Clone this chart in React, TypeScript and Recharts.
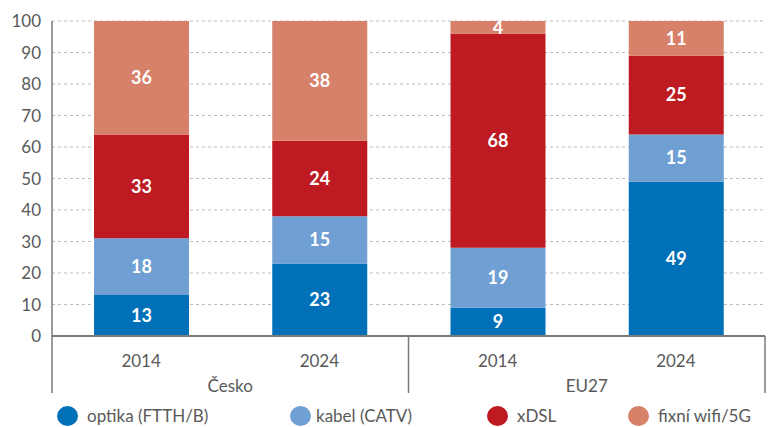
import { BarChart, Bar, XAxis, YAxis, CartesianGrid, LabelList } from "recharts"

const years = ["2014", "2024", "2014", "2024"]
const groups = ["Česko", "Česko", "EU27", "EU27"]
const optika = [13, 23, 9, 49]
const kabel = [18, 15, 19, 15]
const xdsl = [33, 24, 68, 25]
const wifi = [36, 38, 4, 11]
const yTicks = [0, 10, 20, 30, 40, 50, 60, 70, 80, 90, 100]

const SERIES = [
  { key: "optika", name: "optika (FTTH/B)", color: "#0070B9" },
  { key: "kabel", name: "kabel (CATV)", color: "#6F9FD3" },
  { key: "xdsl", name: "xDSL", color: "#BD1A21" },
  { key: "wifi", name: "fixní wifi/5G", color: "#D7806A" },
]

const data = years.map((y, i) => ({
  year: y,
  group: groups[i],
  optika: optika[i],
  kabel: kabel[i],
  xdsl: xdsl[i],
  wifi: wifi[i],
}))

const FONT = "Lato, 'Open Sans', sans-serif"
const TEXT = "#595959"
const AXIS = "#7a7a7a"
const W = 771
const H = 427
const LEFT = 52
const RIGHT = 765
const TOP = 21
const BOTTOM = 336
const XAXIS_H = 60
const BAND = (RIGHT - LEFT) / years.length
const LEGEND_X = [57, 290, 487, 628]

function YearTick(props: any) {
  const { x, payload, index } = props
  const parts: any[] = [
    <text key="y" x={x} y={367} textAnchor="middle" fontSize={17} fill={TEXT} fontFamily={FONT}>
      {payload.value}
    </text>,
  ]
  if (index % 2 === 0) {
    parts.push(
      <text key="g" x={x + BAND / 2} y={392} textAnchor="middle" fontSize={17} fill={TEXT} fontFamily={FONT}>
        {groups[index]}
      </text>,
      <line key="l" x1={x - BAND / 2} x2={x - BAND / 2} y1={BOTTOM} y2={393} stroke={AXIS} strokeWidth={1.5} />
    )
  }
  if (index === years.length - 1) {
    parts.push(<line key="r" x1={x + BAND / 2} x2={x + BAND / 2} y1={BOTTOM} y2={393} stroke={AXIS} strokeWidth={1.5} />)
  }
  return <g>{parts}</g>
}

function ChartLegend() {
  return (
    <div style={{ position: "absolute", left: 0, top: 405, width: W, height: 22 }}>
      {SERIES.map((s, i) => (
        <div
          key={s.key}
          style={{
            position: "absolute",
            left: LEGEND_X[i],
            top: 0,
            display: "flex",
            alignItems: "center",
            fontFamily: FONT,
            fontSize: 17,
            color: TEXT,
            whiteSpace: "nowrap",
          }}
        >
          <span
            style={{
              display: "inline-block",
              width: 21,
              height: 20,
              borderRadius: "50%",
              background: s.color,
              marginRight: i === 1 ? 5 : 9,
            }}
          />
          {s.name}
        </div>
      ))}
    </div>
  )
}

export default function App() {
  return (
    <div style={{ position: "absolute", left: 0, top: 0, width: W, height: H, background: "#fff" }}>
      <BarChart
        width={W}
        height={H}
        data={data}
        margin={{ top: TOP, right: W - RIGHT, left: 0, bottom: H - BOTTOM - XAXIS_H }}
        barSize={95}
      >
        <CartesianGrid vertical={false} strokeDasharray="3 3" stroke="#bdbdbd" />
        <YAxis
          domain={[0, 100]}
          ticks={yTicks}
          interval={0}
          width={LEFT}
          tickLine={false}
          tickSize={0}
          tickMargin={11}
          axisLine={{ stroke: AXIS, strokeWidth: 1.5 }}
          tick={{ fontSize: 17, fill: TEXT, fontFamily: FONT }}
        />
        <XAxis
          dataKey="year"
          height={XAXIS_H}
          interval={0}
          tickLine={false}
          axisLine={{ stroke: AXIS, strokeWidth: 2 }}
          tick={<YearTick />}
        />
        {SERIES.map((s) => (
          <Bar key={s.key} dataKey={s.key} name={s.name} stackId="a" fill={s.color} isAnimationActive={false}>
            <LabelList
              dataKey={s.key}
              position="center"
              fill="#fff"
              fontSize={18}
              fontWeight="bold"
              fontFamily={FONT}
            />
          </Bar>
        ))}
      </BarChart>
      <ChartLegend />
    </div>
  )
}
